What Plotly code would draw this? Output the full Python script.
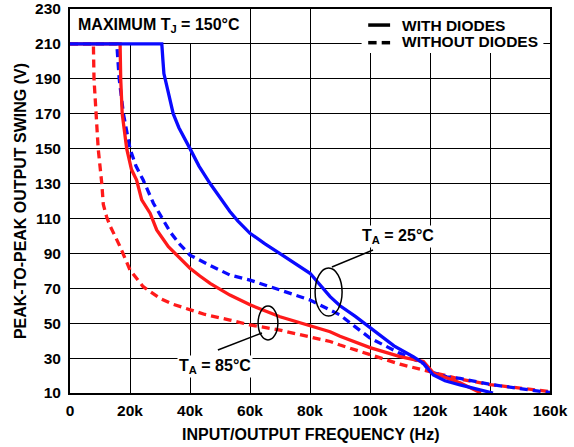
import plotly.graph_objects as go

# Frequency in kHz, peak-to-peak swing in V
blue_solid_f = [0, 30.6, 31.0, 31.3, 32.8, 34.4, 36.3, 38.3, 40, 43, 46.7, 50, 53.3, 56, 60, 65, 70,
                75, 80, 86.7, 90, 95, 100, 104, 108, 114.4, 117.8, 121.1, 125, 130, 135, 141]
blue_solid_v = [210, 210, 200, 193, 182, 170, 162, 155, 150, 140, 130, 122, 114, 108.5, 101.5, 95.5, 90,
                84.5, 78.6, 65.2, 60, 54, 47.5, 42, 37, 30.8, 27, 20.3, 17, 14.6, 12.5, 10]

blue_dash_f = [0, 15.6, 16.4, 17.8, 20, 22, 24.4, 27.8, 31.1, 33.5, 36.7, 40, 45.6, 53.3, 60, 70,
               80, 86.7, 90, 95, 100, 110, 117.8, 120, 125.6, 130, 140, 150, 160]
blue_dash_v = [210, 210, 190, 170, 150, 140, 132, 118.7, 109, 102, 95, 89, 84, 77.6, 74.7, 69,
               63.3, 57.5, 54.7, 48, 41.5, 32.7, 27, 22.2, 19.3, 18.4, 15, 12.5, 10.3]

red_solid_f = [0, 16.7, 16.9, 17.4, 18.9, 20.5, 22.2, 23.9, 26.7, 28.9, 32.8, 37.2, 40, 43.3, 46.7,
               53.3, 60, 70, 80, 86.7, 90, 100, 110, 117.8, 121.1, 125.6, 130, 137]
red_solid_v = [210, 210, 190, 170, 150, 138, 132, 120.6, 113, 103.4, 93.8, 86, 81.5, 77, 72.8,
               66.1, 60.5, 53.7, 48.5, 45.1, 42.5, 36, 30.8, 28, 21.5, 18.4, 15.8, 10]

red_dash_f = [0, 7.8, 8, 8.7, 9.4, 10.6, 11.1, 12.2, 13.3, 16.7, 20, 24.4, 30, 34, 38.9,
              45, 53.3, 60, 70, 80, 86.7, 90, 100, 110, 120, 125, 130, 140, 150, 160]
red_dash_v = [210, 210, 190, 170, 150, 130, 118, 111, 106, 93.8, 80.5, 70.9, 64.2, 61, 58.5,
              55, 51.8, 49, 46, 42, 39.5, 37.5, 32, 26.5, 22.2, 20, 18, 14.8, 12.6, 10.8]

x_ticks = [0, 20, 40, 60, 80, 100, 120, 140, 160]
x_tick_labels = ["0", "20k", "40k", "60k", "80k", "100k", "120k", "140k", "160k"]
y_ticks = [10, 30, 50, 70, 90, 110, 130, 150, 170, 190, 210, 230]

BLUE = "#0a0aff"
RED = "#ff1a1a"
FONT = "Liberation Sans, Arial, sans-serif"
TXT = dict(family=FONT, size=16, color="black", weight="bold")
TXT_L = dict(family=FONT, size=15.5, color="black", weight="bold")

fig = go.Figure()
fig.add_trace(go.Scatter(x=red_dash_f, y=red_dash_v, mode="lines",
                         line=dict(color=RED, width=3.3, dash="8px,5px")))
fig.add_trace(go.Scatter(x=blue_dash_f, y=blue_dash_v, mode="lines",
                         line=dict(color=BLUE, width=3.3, dash="8px,5px")))
fig.add_trace(go.Scatter(x=red_solid_f, y=red_solid_v, mode="lines",
                         line=dict(color=RED, width=3.3)))
fig.add_trace(go.Scatter(x=blue_solid_f, y=blue_solid_v, mode="lines",
                         line=dict(color=BLUE, width=3.3)))

shapes = [
    # white box behind MAXIMUM label
    dict(type="rect", xref="x", yref="y", x0=0, x1=58, y0=210.5, y1=230,
         fillcolor="white", line=dict(width=0), layer="between"),
    # white box behind legend
    dict(type="rect", xref="x", yref="y", x0=97.2, x1=157.8, y0=204.8, y1=230,
         fillcolor="white", line=dict(width=0), layer="between"),
    # legend samples
    dict(type="line", xref="x", yref="y", x0=99.4, x1=106.7, y0=220.8, y1=220.8,
         line=dict(color="black", width=3.5)),
    dict(type="line", xref="x", yref="y", x0=99.4, x1=102.2, y0=210.7, y1=210.7,
         line=dict(color="black", width=3.5)),
    dict(type="line", xref="x", yref="y", x0=103.9, x1=106.7, y0=210.7, y1=210.7,
         line=dict(color="black", width=3.5)),
    # ellipses
    dict(type="circle", xref="x", yref="y", x0=62.7, x1=69.3, y0=40.4, y1=59.8,
         line=dict(color="black", width=1.5)),
    dict(type="circle", xref="x", yref="y", x0=81.7, x1=90.7, y0=54.1, y1=81.6,
         line=dict(color="black", width=1.5)),
    # leader lines
    dict(type="line", xref="x", yref="y", x0=49.3, y0=34.6, x1=64.0, y1=44.4,
         line=dict(color="black", width=1.5)),
    dict(type="line", xref="x", yref="y", x0=87.3, y0=82.2, x1=101.0, y1=91.9,
         line=dict(color="black", width=1.5)),
]

annotations = [
    dict(x=2, y=220.3, xref="x", yref="y", xanchor="left", yanchor="middle",
         text="MAXIMUM T<sub>J</sub> = 150°C", showarrow=False, font=TXT),
    dict(x=110, y=220.3, xref="x", yref="y", xanchor="left", yanchor="middle",
         text="WITH DIODES", showarrow=False, font=TXT_L),
    dict(x=110, y=211.2, xref="x", yref="y", xanchor="left", yanchor="middle",
         text="WITHOUT DIODES", showarrow=False, font=TXT_L),
    dict(x=109.3, y=99.5, xref="x", yref="y", xanchor="center", yanchor="middle",
         text="T<sub>A</sub> = 25°C", showarrow=False, bgcolor="white", font=TXT),
    dict(x=48.2, y=25.2, xref="x", yref="y", xanchor="center", yanchor="middle",
         text="T<sub>A</sub> = 85°C", showarrow=False, bgcolor="white", font=TXT),
    # axis titles
    dict(x=0.5, y=-0.107, xref="paper", yref="paper", xanchor="center", yanchor="middle",
         text="INPUT/OUTPUT FREQUENCY (Hz)", showarrow=False, font=TXT),
    dict(x=-0.104, y=0.5, xref="paper", yref="paper", xanchor="center", yanchor="middle",
         text="PEAK-TO-PEAK OUTPUT SWING (V)", showarrow=False, textangle=-90, font=TXT),
]

fig.update_layout(
    width=574, height=447,
    margin=dict(l=70, r=24, t=9, b=54),
    plot_bgcolor="white", paper_bgcolor="white",
    showlegend=False,
    shapes=shapes, annotations=annotations,
    font=dict(family=FONT, size=16, color="black"),
)
fig.update_xaxes(
    range=[0, 160], tickvals=x_ticks, ticktext=x_tick_labels,
    showgrid=True, gridcolor="black", gridwidth=1,
    showline=True, linecolor="black", linewidth=2, mirror=True,
    zeroline=False, ticks="", automargin=False, ticklabelstandoff=2,
    tickfont=dict(family=FONT, size=15.5, color="black", weight="bold"),
)
fig.update_yaxes(
    range=[10, 230], tickvals=y_ticks,
    showgrid=True, gridcolor="black", gridwidth=1,
    showline=True, linecolor="black", linewidth=2, mirror=True,
    zeroline=False, ticks="", automargin=False, ticklabelstandoff=4,
    tickfont=dict(family=FONT, size=15.5, color="black", weight="bold"),
)

# remove the default page margin so the figure sits at the window's corner
fig.write_html("out.html",
               config={"displayModeBar": False},
               post_script="document.body.style.margin='0';document.body.style.overflow='hidden';")
